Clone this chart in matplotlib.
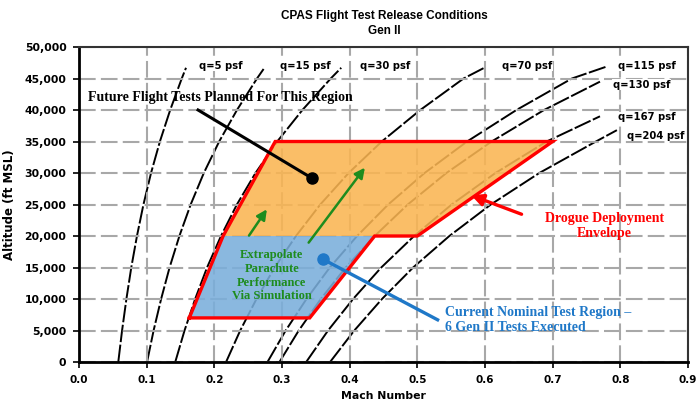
import matplotlib
matplotlib.use("Agg")
import matplotlib.pyplot as plt
from matplotlib.ticker import FuncFormatter, MultipleLocator

# ---- data ----
alt_std = [0, 5000, 10000, 15000, 20000, 25000, 30000, 35000, 40000, 45000]

q_labels = ["q=5 psf", "q=15 psf", "q=30 psf", "q=70 psf", "q=115 psf",
            "q=130 psf", "q=167 psf", "q=204 psf"]
q_mach = [
    [0.0581, 0.0637, 0.0701, 0.0773, 0.0857, 0.0953, 0.1065, 0.1196, 0.1348, 0.1519, 0.1582],
    [0.1006, 0.1103, 0.1214, 0.1339, 0.1484, 0.1651, 0.1845, 0.2072, 0.2335, 0.2631, 0.2741],
    [0.1423, 0.1560, 0.1717, 0.1893, 0.2099, 0.2334, 0.2609, 0.2930, 0.3302, 0.3721, 0.3876],
    [0.2174, 0.2383, 0.2623, 0.2892, 0.3207, 0.3566, 0.3985, 0.4475, 0.5044, 0.5684, 0.5990],
    [0.2786, 0.3055, 0.3362, 0.3707, 0.4110, 0.4570, 0.5108, 0.5736, 0.6465, 0.7285, 0.7800],
    [0.2963, 0.3248, 0.3574, 0.3942, 0.4370, 0.4859, 0.5430, 0.6099, 0.6873, 0.7700],
    [0.3358, 0.3681, 0.4051, 0.4467, 0.4953, 0.5508, 0.6155, 0.6912, 0.7700],
    [0.3711, 0.4069, 0.4478, 0.4938, 0.5474, 0.6087, 0.6803, 0.7640, 0.7950],
]
q_alt = [
    alt_std + [46700],
    alt_std + [46700],
    alt_std + [46700],
    alt_std + [46700],
    alt_std + [46900],
    alt_std[:9] + [44500],
    alt_std[:8] + [39000],
    alt_std[:8] + [36800],
]
# label anchor (Mach, altitude) for each curve label
q_label_mach = [0.178, 0.297, 0.415, 0.625, 0.797, 0.789, 0.796, 0.810]
q_label_alt = [47000, 47000, 47000, 47000, 47000, 44000, 38900, 35900]

# envelope (Mach, altitude)
blue_mach = [0.163, 0.341, 0.437, 0.213]
blue_alt = [7000, 7000, 20000, 20000]
orange_mach = [0.213, 0.437, 0.500, 0.700, 0.290]
orange_alt = [20000, 20000, 20000, 35000, 35000]
env_mach = [0.163, 0.341, 0.437, 0.500, 0.700, 0.290, 0.213, 0.163]
env_alt = [7000, 7000, 20000, 20000, 35000, 35000, 20000, 7000]

# ---- figure ----
fig = plt.figure(figsize=(6.97, 4.08), dpi=100)
ax = fig.add_axes([0.1133, 0.1127, 0.8737, 0.7721])
ax.set_xlim(0, 0.9)
ax.set_ylim(0, 50000)

ax.xaxis.set_major_locator(MultipleLocator(0.1))
ax.yaxis.set_major_locator(MultipleLocator(5000))
ax.grid(True, color="#a8a8a8", linewidth=1.5, linestyle=(0, (8, 2.5)), zorder=0)

for m, a in zip(q_mach, q_alt):
    ax.plot(m, a, color="black", linewidth=1.4, linestyle=(0, (9, 1.3)), zorder=1)

ax.fill(blue_mach, blue_alt, color="#7aaedb", alpha=0.88, linewidth=0, zorder=2)
ax.fill(orange_mach, orange_alt, color="#fab552", alpha=0.88, linewidth=0, zorder=2)
ax.plot(env_mach, env_alt, color="#ff0000", linewidth=2.4, zorder=3,
        solid_joinstyle="miter")

for lab, lm, la in zip(q_labels, q_label_mach, q_label_alt):
    ax.text(lm, la, lab, fontsize=7.2, fontweight="bold", family="DejaVu Sans",
            ha="left", va="center", zorder=5,
            bbox=dict(facecolor="white", edgecolor="none", pad=0.3))

serif = "Liberation Serif"
# Future flight tests annotation
ax.text(0.013, 42000, "Future Flight Tests Planned For This Region", fontsize=10,
        fontweight="bold", family=serif, color="black", ha="left", va="center", zorder=6)
ax.plot([0.176, 0.344], [40000, 29200], color="black", linewidth=2.2, zorder=6)
ax.plot([0.344], [29200], "o", color="black", markersize=8, zorder=7)

# Current nominal region annotation
ax.plot([0.360, 0.530], [16350, 6700], color="#1f78c8", linewidth=2.4, zorder=6)
ax.plot([0.360], [16350], "o", color="#1f78c8", markersize=8, zorder=7)
ax.text(0.541, 6700, "Current Nominal Test Region \u2013\n6 Gen II Tests Executed",
        fontsize=10, fontweight="bold", family=serif, color="#1f78c8",
        ha="left", va="center", linespacing=1.2, zorder=6)

# Drogue deployment envelope annotation
ax.annotate("", xy=(0.576, 26600), xytext=(0.658, 23300),
            arrowprops=dict(arrowstyle="-|>,head_length=0.7,head_width=0.35",
                            color="#ff0000", linewidth=2.4), zorder=6)
ax.text(0.777, 21600, "Drogue Deployment\nEnvelope", fontsize=10, fontweight="bold",
        family=serif, color="#ff0000", ha="center", va="center", linespacing=1.2, zorder=6)

# Green extrapolation
green = "#1e8c1e"
ax.annotate("", xy=(0.280, 24600), xytext=(0.249, 19700),
            arrowprops=dict(arrowstyle="-|>,head_length=0.6,head_width=0.3",
                            color=green, linewidth=1.8), zorder=6)
ax.annotate("", xy=(0.425, 31200), xytext=(0.337, 18600),
            arrowprops=dict(arrowstyle="-|>,head_length=0.6,head_width=0.3",
                            color=green, linewidth=1.8), zorder=6)
ax.text(0.285, 13700, "Extrapolate\nParachute\nPerformance\nVia Simulation",
        fontsize=9, fontweight="bold", family=serif, color=green,
        ha="center", va="center", linespacing=1.2, zorder=6)

# axes styling
for s in ["left", "bottom"]:
    ax.spines[s].set_linewidth(2.0)
    ax.spines[s].set_color("black")
for s in ["top", "right"]:
    ax.spines[s].set_linewidth(1.5)
    ax.spines[s].set_color("#333333")
ax.tick_params(direction="out", length=4, width=1.2, pad=5)
ax.yaxis.set_major_formatter(FuncFormatter(lambda v, p: f"{int(v):,}"))
ax.xaxis.set_major_formatter(FuncFormatter(lambda v, p: f"{v:.1f}"))
for lbl in ax.get_yticklabels():
    lbl.set_fontweight("bold")
    lbl.set_family("DejaVu Sans")
    lbl.set_fontsize(7.8)
for lbl in ax.get_xticklabels():
    lbl.set_fontweight("bold")
    lbl.set_family("DejaVu Sans")
    lbl.set_fontsize(7.5)

ax.set_xlabel("Mach Number", fontsize=7.8, fontweight="bold", family="DejaVu Sans",
              labelpad=5)
ax.set_ylabel("Altitude (ft MSL)", fontsize=8.5, fontweight="bold", family="DejaVu Sans",
              labelpad=6)
fig.text(0.551, 0.961, "CPAS Flight Test Release Conditions", fontsize=8.5,
         fontweight="bold", family="Liberation Sans", ha="center", va="center")
fig.text(0.551, 0.924, "Gen II", fontsize=8.5, fontweight="bold",
         family="Liberation Sans", ha="center", va="center")

fig.savefig("out.png", dpi=100)
